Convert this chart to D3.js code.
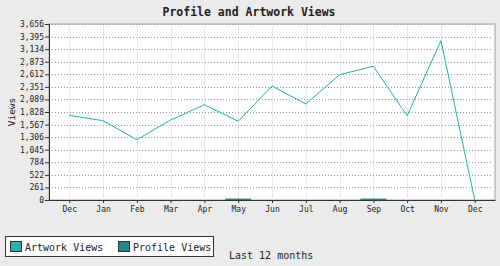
<!DOCTYPE html>
<html>
<head>
<meta charset="utf-8">
<script src="https://cdn.jsdelivr.net/npm/d3@7"></script>
<style>
  body { margin: 0; background: #ebebeb; }
  svg { display: block; font-family: "DejaVu Sans Mono", monospace; }
</style>
</head>
<body>
<div id="chart"></div>
<script>
// data
const months = ["Dec", "Jan", "Feb", "Mar", "Apr", "May", "Jun", "Jul", "Aug", "Sep", "Oct", "Nov", "Dec"];
const artworkViews = [1759, 1647, 1253, 1662, 1980, 1634, 2368, 1994, 2603, 2777, 1751, 3309, 0];
const profileViews = [0, 0, 0, 0, 0, 30, 0, 0, 0, 30, 0, 0, 0];
const yTicks = [0, 261, 522, 784, 1045, 1306, 1567, 1828, 2089, 2351, 2612, 2873, 3134, 3395, 3656];

const W = 500, H = 266;
const margin = { top: 24, right: 5, bottom: 66, left: 49 };
const width = W - margin.left - margin.right;
const height = H - margin.top - margin.bottom;

const svg = d3.select("#chart").append("svg")
  .attr("width", W).attr("height", H);

svg.append("rect").attr("width", W).attr("height", H).attr("fill", "#ebebeb");

// title
svg.append("text")
  .attr("x", 249).attr("y", 16)
  .attr("text-anchor", "middle")
  .attr("font-size", 11.5).attr("font-weight", "bold")
  .attr("fill", "#222")
  .text("Profile and Artwork Views");

const g = svg.append("g").attr("transform", `translate(${margin.left},${margin.top})`);

const x = d3.scalePoint()
  .domain(d3.range(months.length))
  .range([0, width])
  .padding(0.6);

const y = d3.scaleLinear()
  .domain([0, 3656])
  .range([height, 0]);

// plot background and frame
g.append("rect")
  .attr("width", width).attr("height", height)
  .attr("fill", "#fff")
  .attr("stroke", "#a0a0a0");

// vertical grid
g.selectAll("line.vgrid")
  .data(months.map((m, i) => i))
  .enter().append("line")
    .attr("class", "vgrid")
    .attr("x1", d => Math.round(x(d)) + 0.5).attr("x2", d => Math.round(x(d)) + 0.5)
    .attr("y1", 1).attr("y2", height)
    .attr("stroke", "#e8e8e8");

// horizontal grid (dotted)
g.selectAll("line.hgrid")
  .data(yTicks.slice(1))
  .enter().append("line")
    .attr("class", "hgrid")
    .attr("x1", 3).attr("x2", width - 2)
    .attr("y1", d => Math.round(y(d)) + 0.5).attr("y2", d => Math.round(y(d)) + 0.5)
    .attr("stroke", "#999")
    .attr("stroke-dasharray", "1,2");

// profile views bars
const bw = 26;
g.selectAll("rect.pv")
  .data(profileViews.map((v, i) => ({ i, v })).filter(d => d.v > 0))
  .enter().append("rect")
    .attr("class", "pv")
    .attr("x", d => x(d.i) - bw / 2)
    .attr("y", d => y(d.v))
    .attr("width", bw)
    .attr("height", d => height - y(d.v))
    .attr("fill", "#1e8a8a");

// artwork views line
const line = d3.line()
  .x((d, i) => x(i))
  .y(d => y(d));

g.append("path")
  .datum(artworkViews)
  .attr("fill", "none")
  .attr("stroke", "#20b2aa")
  .attr("stroke-width", 1)
  .attr("d", line);

// axes
const yAxis = g.append("g")
  .call(d3.axisLeft(y).tickValues(yTicks).tickSize(4).tickFormat(d3.format(",")));
yAxis.select(".domain").attr("stroke", "#333");
yAxis.selectAll(".tick line").attr("stroke", "#333");
yAxis.selectAll(".tick text")
  .attr("font-family", "DejaVu Sans Mono, monospace")
  .attr("font-size", 8).attr("fill", "#222").attr("x", -5);

const xAxis = g.append("g")
  .attr("transform", `translate(0,${height})`)
  .call(d3.axisBottom(x).tickSize(3).tickSizeOuter(0).tickFormat(i => months[i]));
xAxis.select(".domain").attr("stroke", "#333");
xAxis.selectAll(".tick line").attr("stroke", "#333");
xAxis.selectAll(".tick text")
  .attr("font-family", "DejaVu Sans Mono, monospace")
  .attr("font-size", 8).attr("fill", "#222").attr("y", 6);

// y label
svg.append("text")
  .attr("transform", `translate(15,${margin.top + height / 2}) rotate(-90)`)
  .attr("text-anchor", "middle")
  .attr("font-size", 9.5).attr("fill", "#222")
  .text("Views");

// legend
const legend = svg.append("g").attr("transform", "translate(5,236)");
legend.append("rect")
  .attr("x", 0.5).attr("y", 0.5).attr("width", 208).attr("height", 20)
  .attr("fill", "#fff").attr("stroke", "#333");
const items = [
  { label: "Artwork Views", color: "#2ab0b0", x: 5 },
  { label: "Profile Views", color: "#1e8a8a", x: 113 }
];
items.forEach(it => {
  legend.append("rect")
    .attr("x", it.x + 0.5).attr("y", 5.5).attr("width", 11).attr("height", 10)
    .attr("fill", it.color).attr("stroke", "#333");
  legend.append("text")
    .attr("x", it.x + 15).attr("y", 14.5)
    .attr("font-size", 10).attr("fill", "#222")
    .text(it.label);
});

svg.append("text")
  .attr("x", 229).attr("y", 259)
  .attr("font-size", 10).attr("fill", "#222")
  .text("Last 12 months");
</script>
</body>
</html>
